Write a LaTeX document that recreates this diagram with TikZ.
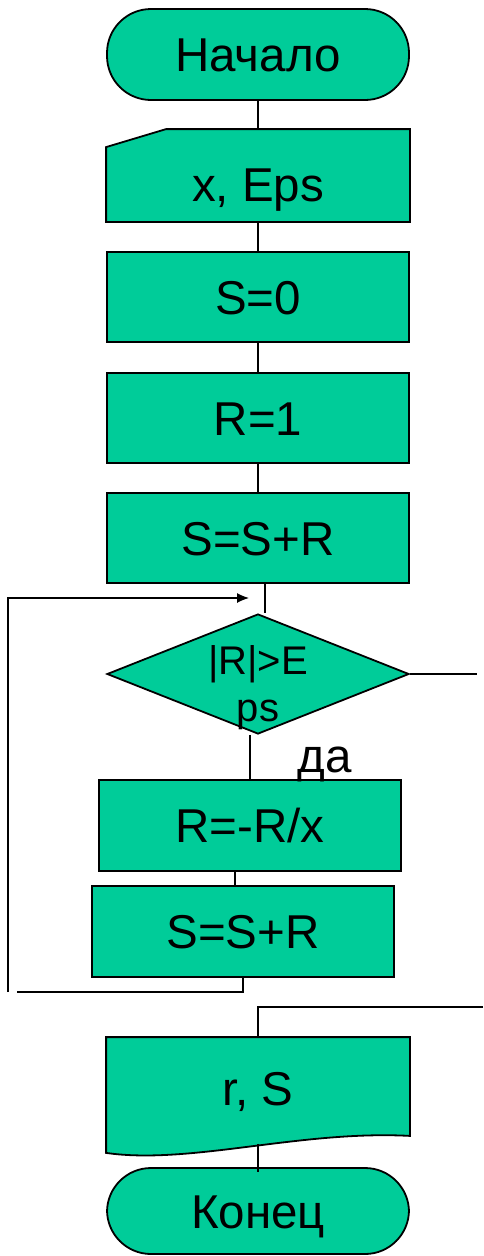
\documentclass[tikz,border=0pt]{standalone}
\usepackage{fontspec}
\setmainfont{Liberation Sans}
\usepackage{tikz}
\usetikzlibrary{shapes.geometric, arrows.meta, backgrounds}
\definecolor{blockgreen}{RGB}{0,204,153}
\tikzset{
    blk/.style={draw, line width=1.8pt, fill=blockgreen, minimum width=302pt, minimum height=90pt,
        inner sep=0pt, text height=34pt, text depth=0pt, font=\fontsize{47.5}{57}\selectfont},
    term/.style={blk, rounded corners=44pt},
    bare/.style={blk, draw=none, fill=none},
    shp/.style={draw, line width=1.8pt, fill=blockgreen},
    dia/.style={diamond, draw, line width=1.8pt, fill=blockgreen, minimum width=302pt, minimum height=120pt, inner sep=0pt},
    dtxt/.style={align=center, inner sep=0pt, font=\fontsize{40}{47}\selectfont},
    line/.style={line width=1.2pt},
}

\begin{document}
\begin{tikzpicture}[x=1pt, y=-1pt]
    \useasboundingbox (0,0) rectangle (483,1256);
    \node[term, minimum height=91pt] (start) at (258,54.5) {Начало};
    \node[bare, minimum height=73pt] (inp) at (258,184.5) {x, Eps};
    \node[blk] (s0) at (258,297) {S=0};
    \node[blk] (r1) at (258,418) {R=1};
    \node[blk] (ss1) at (258,538) {S=S+R};
    \node[dia] (dec) at (258,674) {};
    \node[dtxt] (dectxt) at (258,688) {|R|>E\\ps};
    \node[blk, minimum height=91pt] (rr) at (250,825.5) {R=-R/x};
    \node[blk, minimum height=91pt] (ss2) at (243,931.5) {S=S+R};
    \node[bare, minimum height=100pt] (out) at (258,1088) {r, S};
    \node[term, minimum height=86pt] (fin) at (258,1211) {Конец};
    \node[font=\fontsize{47.5}{57}\selectfont, anchor=base, inner sep=0pt] (yes) at (325,772) {да};

    \begin{scope}[on background layer]
        \draw[shp] (inp.south west) -- (inp.north west) -- ([xshift=60pt,yshift=18pt]inp.north west)
            -- ([yshift=18pt]inp.north east) -- (inp.south east) -- cycle;
        \draw[shp] (out.north west) -- (out.north east) -- ([yshift=3pt]out.south east)
            .. controls (300,1130) and (190,1165) .. ([yshift=-14pt]out.south west) -- cycle;
    \end{scope}

    \draw[line] (start) -- ([yshift=18pt]inp.north);
    \draw[line] (inp) -- (s0);
    \draw[line] (s0) -- (r1);
    \draw[line] (r1) -- (ss1);
    \draw[line] ([xshift=7pt]ss1.south) -- ([xshift=7pt]ss1.south |- dec.north);
    \draw[line] (rr.north |- dec.south) -- (rr.north);
    \draw[line] ([xshift=-15pt]rr.south) -- ([xshift=-15pt]rr.south |- ss2.north);

    % back to the test
    \coordinate (loopin) at (249,598);
    \draw[line] (ss2.south) -- (ss2.south |- 0,992) -- (17,992);
    \draw[line, -{Latex[length=12pt,width=10pt]}] (8,992) -- (8,598) -- (loopin);

    \coordinate (noA) at (477,674);
    \draw[line] (dec.east) -- (noA);
    \coordinate (noB) at (483,1007);
    \draw[line] (noB) -- (noB -| out.north) -- (out.north);
    \draw[line] ([yshift=-5pt]out.south) -- ([yshift=-5pt]fin.north);
\end{tikzpicture}
\end{document}
